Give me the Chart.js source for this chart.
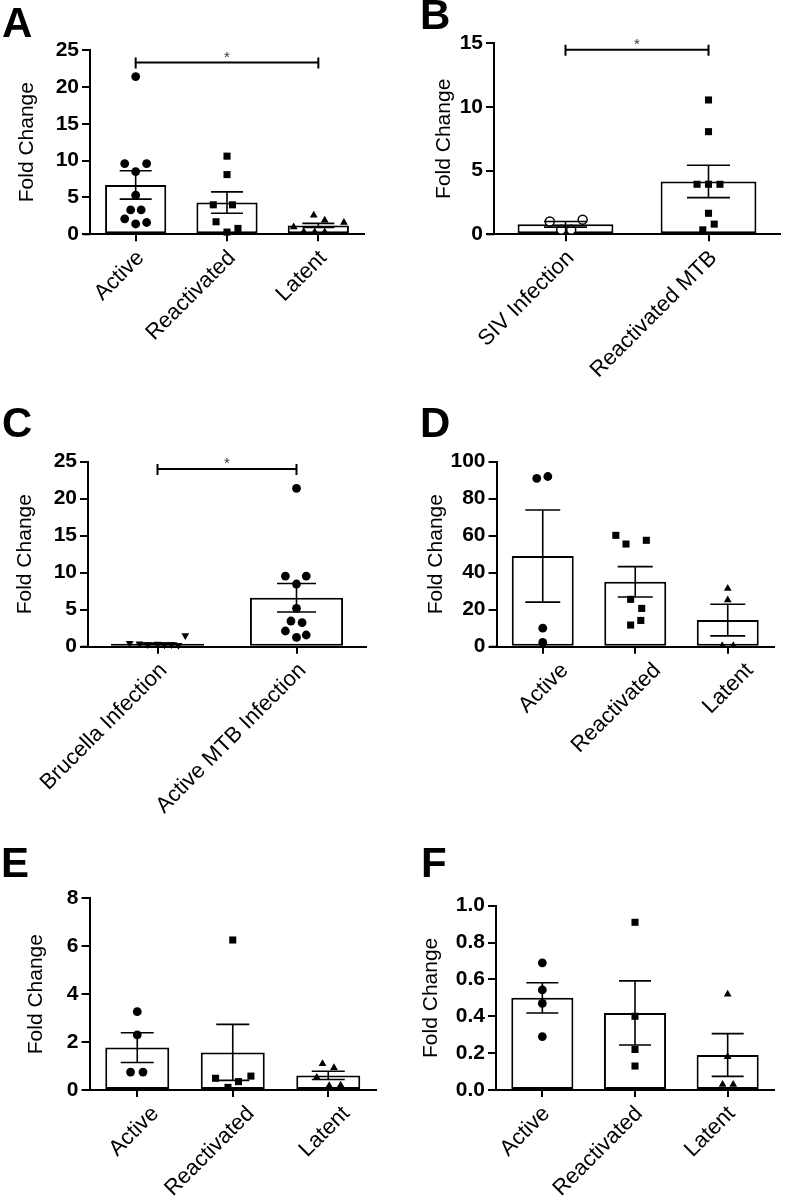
<!DOCTYPE html>
<html>
<head>
<meta charset="utf-8">
<script src="https://cdn.jsdelivr.net/npm/chart.js@4.4.1/dist/chart.umd.min.js"></script>
<style>
  body { margin: 0; background: #fff; width: 786px; height: 1203px; position: relative; overflow: hidden; }
  canvas { position: absolute; }
</style>
</head>
<body>
<canvas id="cA"></canvas>
<canvas id="cB"></canvas>
<canvas id="cC"></canvas>
<canvas id="cD"></canvas>
<canvas id="cE"></canvas>
<canvas id="cF"></canvas>
<script>
// ---- data ----
const tbGroups = ['Active', 'Reactivated', 'Latent'];

// A
const aMeans = [6.7, 4.3, 1.2];
const aSem = [1.93, 1.45, 0.28];
const aActive = [21.4, 9.6, 9.6, 8.5, 5.3, 3.3, 3.3, 2.1, 1.6, 1.4];
const aActiveJit = [0, -0.12, 0.12, 0, 0, -0.055, 0.06, -0.12, 0.12, 0];
const aReact = [10.6, 8.1, 4.0, 4.0, 1.7, 0.8, 0.3];
const aReactJit = [0, 0, -0.15, 0.06, -0.12, 0.12, 0];
const aLatent = [2.6, 1.9, 1.6, 1.0, 0.35, 0.3, 0.3];
const aLatentJit = [-0.05, 0.07, 0.28, -0.27, -0.16, -0.04, 0.07];

// B
const bGroups = ['SIV Infection', 'Reactivated MTB'];
const bMeans = [0.78, 4.15];
const bSem = [0.22, 1.27];
const bSiv = [1.0, 0.35, 0.35, 1.15];
const bSivJit = [-0.11, -0.03, 0.04, 0.12];
const bMtb = [10.55, 8.06, 3.93, 3.93, 3.93, 1.65, 0.8, 0.35];
const bMtbJit = [0, 0, -0.08, 0, 0.08, 0, 0.04, -0.04];

// C
const cGroups = ['Brucella Infection', 'Active MTB Infection'];
const cMeans = [0.4, 6.62];
const cSem = [0.1, 1.93];
const cBrucella = [1.5, 0.45, 0.4, 0.3, 0.35, 0.25, 0.3, 0.2];
const cBrucellaJit = [0.2, -0.2, -0.13, -0.07, 0, 0.05, 0.1, 0.15];
const cActive = [21.4, 9.55, 9.55, 8.47, 5.18, 3.47, 3.24, 2.12, 1.58, 1.26];
const cActiveJit = [0, -0.08, 0.07, 0, 0, -0.04, 0.04, -0.08, 0.07, 0];

// D
const dMeans = [49, 35.1, 14.4];
const dSem = [24.9, 8.2, 8.55];
const dActive = [92, 91, 10, 2.3];
const dActiveJit = [0.055, -0.065, 0, 0];
const dReact = [60.2, 57.5, 55.5, 25.6, 20.7, 14.2, 11.7];
const dReactJit = [-0.21, 0.12, -0.1, -0.05, 0.07, 0.06, -0.05];
const dLatent = [31.5, 25.2, 0.5, 0.5];
const dLatentJit = [0, 0, -0.06, 0.06];

// E
const eMeans = [1.77, 1.57, 0.61];
const eSem = [0.62, 1.17, 0.17];
const eActive = [3.27, 2.3, 0.75, 0.75];
const eActiveJit = [0, 0, -0.07, 0.06];
const eReact = [6.26, 0.58, 0.49, 0.35, 0.11];
const eReactJit = [0, 0.19, -0.18, 0.06, -0.05];
const eLatent = [1.1, 0.93, 0.52, 0.18, 0.2];
const eLatentJit = [-0.06, 0.06, -0.12, 0.01, 0.13];

// F
const fMeans = [0.5, 0.418, 0.19];
const fSem = [0.082, 0.174, 0.116];
const fActive = [0.69, 0.543, 0.47, 0.29];
const fActiveJit = [0, 0, 0, 0];
const fReact = [0.91, 0.4, 0.22, 0.13];
const fReactJit = [0, 0, 0, 0];
const fLatent = [0.52, 0.18, 0.03, 0.03];
const fLatentJit = [0, 0, -0.055, 0.06];

// ---- drawing ----
const FONT = "'Liberation Sans', Arial, sans-serif";
Chart.defaults.font.family = FONT;
Chart.defaults.color = '#000';

const dot = { style: 'circle', r: 4.4 };
const sq = { style: 'rect', r: 5 };
const tri = { style: 'triangle', r: 4.5 };

function makeExtras(p) {
    return {
        id: 'extras',
        afterDatasetsDraw(chart) {
            const ctx = chart.ctx, xs = chart.scales.x, ys = chart.scales.y, a = chart.chartArea;
            ctx.save();
            ctx.strokeStyle = '#000';
            ctx.lineWidth = 1.6;
            p.means.forEach((m, i) => {
                const cx = xs.getPixelForValue(i);
                const hi = ys.getPixelForValue(m + p.sem[i]);
                const lo = ys.getPixelForValue(m - p.sem[i]);
                ctx.beginPath();
                ctx.moveTo(cx, hi); ctx.lineTo(cx, lo);
                ctx.moveTo(cx - p.cap / 2, hi); ctx.lineTo(cx + p.cap / 2, hi);
                ctx.moveTo(cx - p.cap / 2, lo); ctx.lineTo(cx + p.cap / 2, lo);
                ctx.stroke();
            });
            // x axis runs a little past the y axis
            ctx.lineWidth = 2;
            ctx.beginPath();
            ctx.moveTo(a.left - 7, a.bottom); ctx.lineTo(a.left, a.bottom);
            ctx.stroke();
            if (p.sig) {
                const sy = ys.getPixelForValue(p.sig.y);
                const x1 = xs.getPixelForValue(p.sig.from), x2 = xs.getPixelForValue(p.sig.to);
                ctx.beginPath();
                ctx.moveTo(x1, sy); ctx.lineTo(x2, sy);
                ctx.moveTo(x1, sy - 5); ctx.lineTo(x1, sy + 6);
                ctx.moveTo(x2, sy - 5); ctx.lineTo(x2, sy + 6);
                ctx.stroke();
                ctx.fillStyle = '#333';
                ctx.font = '15px ' + FONT;
                ctx.textAlign = 'center';
                ctx.textBaseline = 'alphabetic';
                ctx.fillText('*', (x1 + x2) / 2, sy - 1);
            }
            ctx.restore();
        },
        afterDraw(chart) {
            const ctx = chart.ctx;
            ctx.save();
            ctx.fillStyle = '#000';
            ctx.font = 'bold 42px ' + FONT;
            ctx.textAlign = 'left';
            ctx.textBaseline = 'alphabetic';
            ctx.fillText(p.letter, p.lx, p.ly);
            ctx.restore();
        }
    };
}

function drawPanel(id, p) {
    const cv = document.getElementById(id);
    cv.width = p.w; cv.height = p.h;
    cv.style.left = p.left + 'px';
    cv.style.top = p.top + 'px';
    const n = p.labels.length;

    const datasets = [{
        type: 'bar',
        data: p.means,
        xAxisID: 'x', yAxisID: 'y',
        backgroundColor: '#fff',
        borderColor: '#000',
        borderWidth: 2,
        borderSkipped: false,
        grouped: false,
        barPercentage: 0.67,
        categoryPercentage: 1,
        order: 5
    }];
    p.groups.forEach((g, gi) => {
        datasets.push({
            type: 'scatter',
            xAxisID: 'xj', yAxisID: 'y',
            order: 1,
            clip: false,
            data: g.values.map((v, i) => ({ x: gi + g.jit[i], y: v })),
            pointStyle: g.mk.style,
            pointRadius: g.mk.r,
            pointHoverRadius: g.mk.r,
            pointRotation: g.rot || 0,
            pointBackgroundColor: g.fill || '#000',
            pointBorderColor: '#000',
            pointBorderWidth: g.bw || 0
        });
    });

    new Chart(cv, {
        type: 'bar',
        data: { labels: p.labels, datasets: datasets },
        options: {
            responsive: false,
            animation: false,
            events: [],
            layout: { padding: { top: p.padTop, right: p.padRight, left: 0, bottom: 0 } },
            plugins: { legend: { display: false }, tooltip: { enabled: false } },
            scales: {
                x: {
                    type: 'category',
                    offset: true,
                    grid: { display: true, drawOnChartArea: false, offset: false, color: '#000', lineWidth: 2, tickLength: 7 },
                    border: { display: true, color: '#000', width: 2 },
                    ticks: {
                        autoSkip: false, maxRotation: 45, minRotation: 45,
                        padding: 4, labelOffset: p.lblOff, color: '#000', font: { size: 22 }
                    },
                    afterFit: s => { s.height = p.xh; }
                },
                xj: {
                    type: 'linear', display: false, offset: false,
                    grid: { offset: false },
                    min: -0.5, max: n - 0.5
                },
                y: {
                    min: 0, max: p.yMax,
                    grid: { display: true, drawOnChartArea: false, color: '#000', lineWidth: 2, tickLength: 8 },
                    border: { display: true, color: '#000', width: 2 },
                    ticks: {
                        stepSize: p.step, padding: 3, color: '#000',
                        font: { size: 21, weight: 'bold' },
                        callback: v => v.toFixed(p.dec)
                    },
                    title: { display: true, text: 'Fold Change', color: '#000', font: { size: 21 }, padding: { top: p.titlePad, bottom: 0 } },
                    afterFit: s => { s.width = p.yw; }
                }
            }
        },
        plugins: [makeExtras(p)]
    });
}

drawPanel('cA', {
    left: 0, top: 0, w: 393, h: 400, padTop: 50, padRight: 29, yw: 90, xh: 165.7, titlePad: 14.4,
    yMax: 25, step: 5, dec: 0, cap: 32, letter: 'A', lx: 2, ly: 37, lblOff: 5,
    labels: tbGroups, means: aMeans, sem: aSem,
    sig: { from: 0, to: 2, y: 23.3 },
    groups: [
        { values: aActive, jit: aActiveJit, mk: dot },
        { values: aReact, jit: aReactJit, mk: sq },
        { values: aLatent, jit: aLatentJit, mk: tri }
    ]
});

drawPanel('cB', {
    left: 393, top: 0, w: 393, h: 400, padTop: 43.3, padRight: 1, yw: 101, xh: 165.7, titlePad: 39,
    yMax: 15, step: 5, dec: 0, cap: 43, letter: 'B', lx: 27, ly: 29, lblOff: 5,
    labels: bGroups, means: bMeans, sem: bSem,
    sig: { from: 0, to: 1, y: 14.5 },
    groups: [
        { values: bSiv, jit: bSivJit, mk: { style: 'circle', r: 4.5 }, fill: '#fff', bw: 1.5 },
        { values: bMtb, jit: bMtbJit, mk: sq }
    ]
});

drawPanel('cC', {
    left: 0, top: 400, w: 393, h: 440, padTop: 61.7, padRight: 27, yw: 88, xh: 193.3, titlePad: 12.4,
    yMax: 25, step: 5, dec: 0, cap: 39, letter: 'C', lx: 2, ly: 37, lblOff: 6,
    labels: cGroups, means: cMeans, sem: cSem,
    sig: { from: 0, to: 1, y: 24.0 },
    groups: [
        { values: cBrucella, jit: cBrucellaJit, mk: tri, rot: 180 },
        { values: cActive, jit: cActiveJit, mk: dot }
    ]
});

drawPanel('cD', {
    left: 393, top: 400, w: 393, h: 440, padTop: 61.7, padRight: 12, yw: 103.5, xh: 193.3, titlePad: 30.7,
    yMax: 100, step: 20, dec: 0, cap: 35, letter: 'D', lx: 27, ly: 37, lblOff: 22,
    labels: tbGroups, means: dMeans, sem: dSem,
    groups: [
        { values: dActive, jit: dActiveJit, mk: dot },
        { values: dReact, jit: dReactJit, mk: sq },
        { values: dLatent, jit: dLatentJit, mk: tri }
    ]
});

drawPanel('cE', {
    left: 0, top: 840, w: 393, h: 363, padTop: 58.3, padRight: 17, yw: 89.5, xh: 113, titlePad: 24,
    yMax: 8, step: 2, dec: 0, cap: 33, letter: 'E', lx: 1, ly: 37, lblOff: 18,
    labels: tbGroups, means: eMeans, sem: eSem,
    groups: [
        { values: eActive, jit: eActiveJit, mk: dot },
        { values: eReact, jit: eReactJit, mk: sq },
        { values: eLatent, jit: eLatentJit, mk: tri }
    ]
});

drawPanel('cF', {
    left: 393, top: 840, w: 393, h: 363, padTop: 65.7, padRight: 12, yw: 103, xh: 113, titlePad: 25.7,
    yMax: 1, step: 0.2, dec: 1, cap: 32, letter: 'F', lx: 28, ly: 37, lblOff: 4,
    labels: tbGroups, means: fMeans, sem: fSem,
    groups: [
        { values: fActive, jit: fActiveJit, mk: dot },
        { values: fReact, jit: fReactJit, mk: sq },
        { values: fLatent, jit: fLatentJit, mk: tri }
    ]
});
</script>
</body>
</html>
